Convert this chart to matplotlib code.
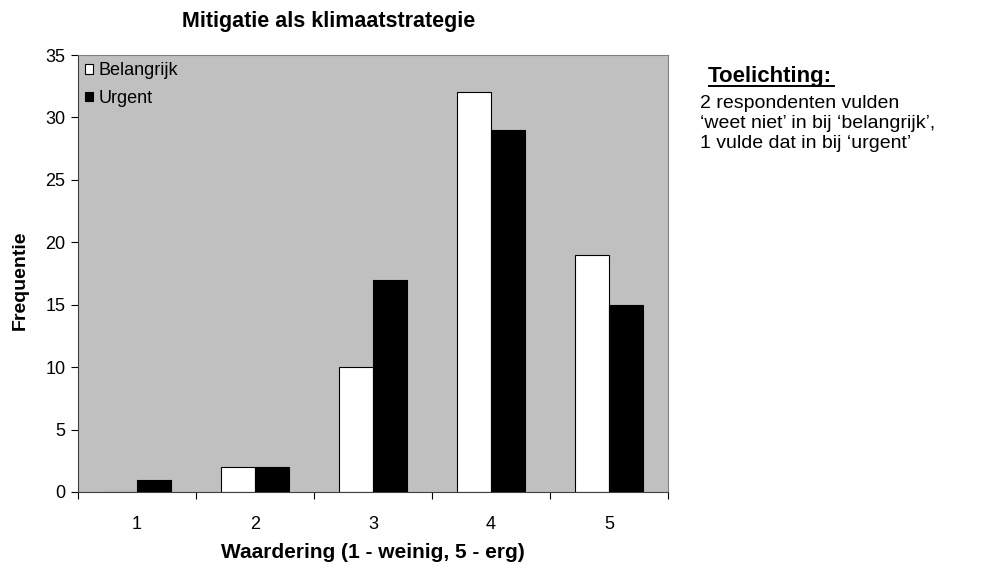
import matplotlib
matplotlib.use("Agg")
import matplotlib.pyplot as plt
import numpy as np

# data
categories = ["1", "2", "3", "4", "5"]
belangrijk = [0, 2, 10, 32, 19]
urgent = [1, 2, 17, 29, 15]
note_title = 'Toelichting:'
note_lines = ["2 respondenten vulden",
              "\u2018weet niet\u2019 in bij \u2018belangrijk\u2019,",
              "1 vulde dat in bij \u2018urgent\u2019"]

plt.rcParams['font.family'] = ['Liberation Sans', 'DejaVu Sans']

W, H = 991, 565
fig = plt.figure(figsize=(W / 100, H / 100), dpi=100)
ax = fig.add_axes([78 / W, 1 - 492 / H, 590 / W, 437 / H])
ax.set_facecolor('#c0c0c0')

x = np.arange(1, len(categories) + 1)
w = 0.284
ax.bar(x - w / 2, belangrijk, w, color='white', edgecolor='black', linewidth=0.8, label='Belangrijk')
ax.bar(x + w / 2, urgent, w, color='black', edgecolor='black', linewidth=0.8, label='Urgent')

ax.set_xlim(0.5, 5.5)
ax.set_ylim(0, 35)
ax.set_yticks(range(0, 36, 5))
ax.set_xticks(x)
ax.set_xticklabels(categories)
ax.set_xticks(np.arange(0.5, 5.6, 1), minor=True)
ax.tick_params(axis='x', which='major', length=0, pad=17, labelsize=13)
ax.tick_params(axis='x', which='minor', length=5, direction='out', width=0.8)
ax.tick_params(axis='y', length=5, direction='out', width=0.8, labelsize=13, pad=4)

for s in ['top', 'right']:
    ax.spines[s].set_color('#808080')
for s in ['left', 'bottom']:
    ax.spines[s].set_color('#404040')

fig.text(329 / W, 1 - 22 / H, 'Mitigatie als klimaatstrategie', fontsize=15.5,
         fontweight='bold', ha='center', va='center')
fig.text(373 / W, 1 - 553 / H, 'Waardering (1 - weinig, 5 - erg)', fontsize=15,
         fontweight='bold', ha='center', va='center')
fig.text(20 / W, 1 - 280 / H, 'Frequentie', fontsize=14, fontweight='bold',
         rotation=90, ha='center', va='center')

ax.legend(loc='upper left', frameon=False, fontsize=13, handlelength=0.45,
          handleheight=0.45, handletextpad=0.3, borderaxespad=0.0, labelspacing=0.6)

fig.text(708 / W, 1 - 82 / H, note_title, fontsize=16, fontweight='bold', va='baseline')
fig.add_artist(plt.Line2D([709 / W, 834 / W], [1 - 86.5 / H, 1 - 86.5 / H], color='black', linewidth=1.4))
for i, line in enumerate(note_lines):
    fig.text(700 / W, 1 - (108 + 20 * i) / H, line, fontsize=14, va='baseline')

fig.savefig('out.png', dpi=100)
